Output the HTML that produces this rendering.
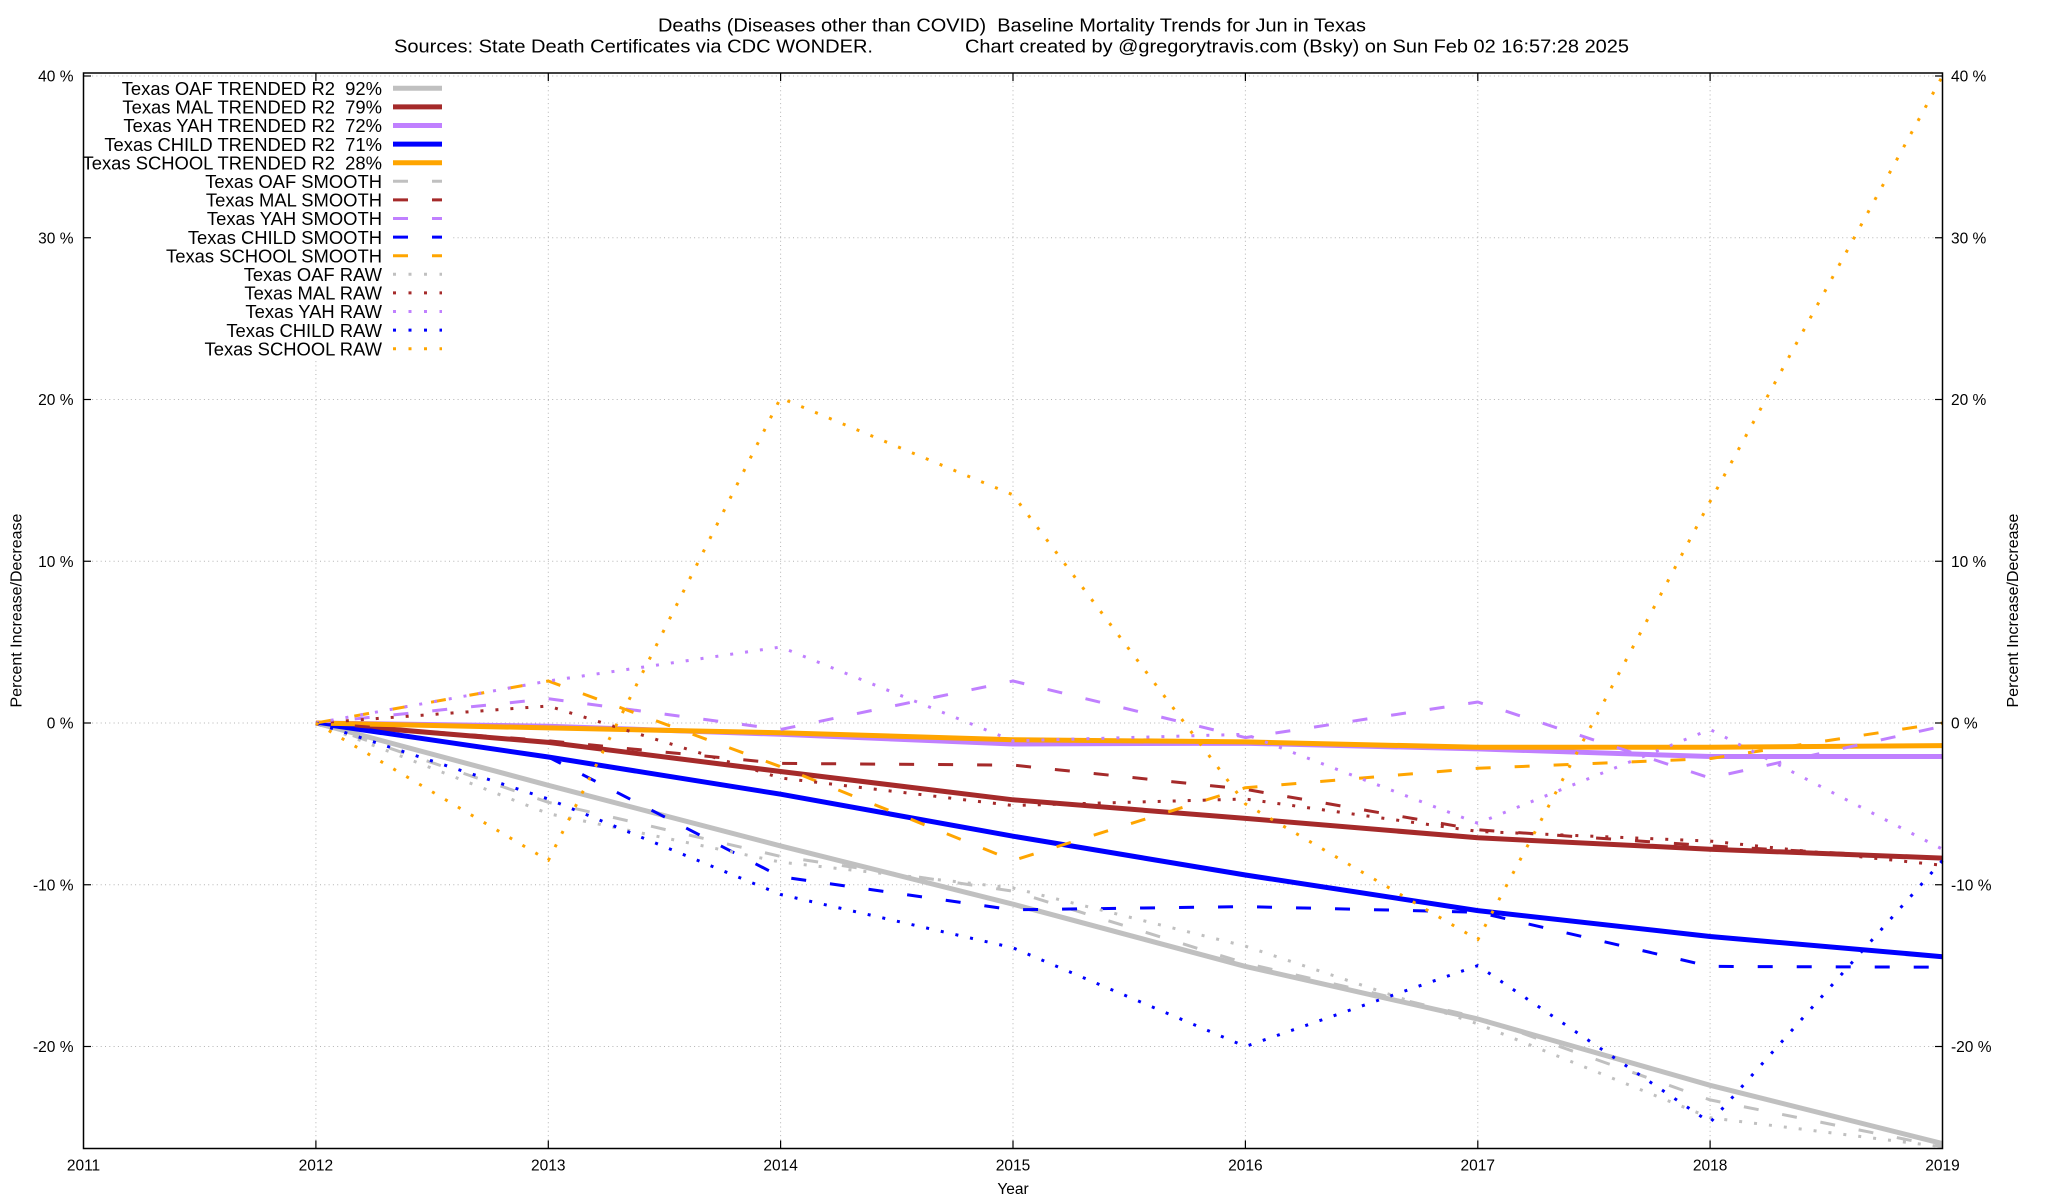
<!DOCTYPE html>
<html><head><meta charset="utf-8"><style>
html,body{margin:0;padding:0;background:#fff;}
svg{display:block;}
text{font-family:"Liberation Sans",Arial,Helvetica,sans-serif;fill:#000;}
</style></head><body>
<svg xmlns="http://www.w3.org/2000/svg" width="2048" height="1200" viewBox="0 0 2048 1200">
<rect x="0" y="0" width="2048" height="1200" fill="#fff"/>

<!-- titles -->
<text x="658" y="31.5" font-size="18.4" textLength="708" lengthAdjust="spacingAndGlyphs">Deaths (Diseases other than COVID)&#160; Baseline Mortality Trends for Jun in Texas</text>
<text x="394" y="52.3" font-size="18.4" textLength="479" lengthAdjust="spacingAndGlyphs">Sources: State Death Certificates via CDC WONDER.</text>
<text x="965" y="52.3" font-size="18.4" textLength="664" lengthAdjust="spacingAndGlyphs">Chart created by @gregorytravis.com (Bsky) on Sun Feb 02 16:57:28 2025</text>

<!-- grid -->
<g stroke="#b4b4b4" stroke-width="1" stroke-dasharray="1 3.3" fill="none">
<line x1="315.9" y1="73" x2="315.9" y2="1148.5"/>
<line x1="548.3" y1="73" x2="548.3" y2="1148.5"/>
<line x1="780.6" y1="73" x2="780.6" y2="1148.5"/>
<line x1="1013" y1="73" x2="1013" y2="1148.5"/>
<line x1="1245.4" y1="73" x2="1245.4" y2="1148.5"/>
<line x1="1477.8" y1="73" x2="1477.8" y2="1148.5"/>
<line x1="1710.1" y1="73" x2="1710.1" y2="1148.5"/>
<line x1="83.5" y1="76" x2="1942.5" y2="76"/>
<line x1="83.5" y1="237.75" x2="1942.5" y2="237.75"/>
<line x1="83.5" y1="399.5" x2="1942.5" y2="399.5"/>
<line x1="83.5" y1="561.25" x2="1942.5" y2="561.25"/>
<line x1="83.5" y1="723" x2="1942.5" y2="723"/>
<line x1="83.5" y1="884.75" x2="1942.5" y2="884.75"/>
<line x1="83.5" y1="1046.5" x2="1942.5" y2="1046.5"/>
</g>

<!-- opaque key background -->
<rect x="85" y="80" width="366" height="278" fill="#fff"/>

<!-- series -->
<g fill="none" stroke-linejoin="round">
<!-- trended -->
<polyline stroke="#c0c0c0" stroke-width="5" points="315.9,723 548.3,785.3 780.6,845.9 1013,904.2 1245.4,966.4 1477.8,1019 1710.1,1085.3 1942.5,1143.6"/>
<polyline stroke="#a52a2a" stroke-width="5" points="315.9,723 548.3,742.4 780.6,771.5 1013,799.8 1245.4,818.4 1477.8,837.8 1710.1,849.2 1942.5,858.1"/>
<polyline stroke="#c080ff" stroke-width="5" points="315.9,723 548.3,726.2 780.6,734.3 1013,744 1245.4,743.2 1477.8,748.9 1710.1,756.5 1942.5,756.5"/>
<polyline stroke="#0000ff" stroke-width="5" points="315.9,723 548.3,757 780.6,794.2 1013,836.2 1245.4,875 1477.8,910.6 1710.1,936.5 1942.5,956.7"/>
<polyline stroke="#ffa500" stroke-width="5" points="315.9,723 548.3,727.9 780.6,732.7 1013,739.7 1245.4,741.9 1477.8,747.3 1710.1,747.3 1942.5,745.6"/>
<!-- smooth -->
<g stroke-width="3" stroke-dasharray="15 24">
<polyline stroke="#c0c0c0" points="315.9,723 548.3,802.3 780.6,856.4 1013,891.2 1245.4,963.2 1477.8,1017.4 1710.1,1099.9 1942.5,1146.8"/>
<polyline stroke="#a52a2a" points="315.9,723 548.3,740.8 780.6,763.4 1013,765.1 1245.4,789.3 1477.8,829.8 1710.1,845.9 1942.5,858.9"/>
<polyline stroke="#c080ff" points="315.9,723 548.3,698.7 780.6,729.5 1013,681 1245.4,737.6 1477.8,702 1710.1,778 1942.5,726.2"/>
<polyline stroke="#0000ff" points="315.9,723 548.3,757 780.6,876.7 1013,909.8 1245.4,906.6 1477.8,912.2 1710.1,966.4 1942.5,967.2"/>
<polyline stroke="#ffa500" points="315.9,723 548.3,681 780.6,766.7 1013,860.5 1245.4,787.7 1477.8,768.3 1710.1,758.6 1942.5,723"/>
</g>
<!-- raw -->
<g stroke-width="3" stroke-dasharray="3 12">
<polyline stroke="#c0c0c0" points="315.9,723 548.3,813.6 780.6,862.1 1013,888 1245.4,946.2 1477.8,1023.9 1710.1,1117.7 1942.5,1146.8"/>
<polyline stroke="#a52a2a" points="315.9,723 548.3,706 780.6,778 1013,805.5 1245.4,799 1477.8,831.4 1710.1,841.1 1942.5,865.3"/>
<polyline stroke="#c080ff" points="315.9,723 548.3,681 780.6,647 1013,740.8 1245.4,734.3 1477.8,823.3 1710.1,729.5 1942.5,849.2"/>
<polyline stroke="#0000ff" points="315.9,723 548.3,799 780.6,894.5 1013,947.8 1245.4,1046.5 1477.8,965.6 1710.1,1122.5 1942.5,860.5"/>
<polyline stroke="#ffa500" points="315.9,723 548.3,860.5 780.6,397.9 1013,494.9 1245.4,803.9 1477.8,939.7 1710.1,501.4 1942.5,76"/>
</g>
</g>

<!-- frame -->
<rect x="83.5" y="73" width="1859" height="1075.5" fill="none" stroke="#000" stroke-width="1.5"/>

<!-- ticks -->
<g stroke="#000" stroke-width="1.2">
<line x1="83.5" y1="76" x2="91" y2="76"/><line x1="1942.5" y1="76" x2="1935" y2="76"/>
<line x1="83.5" y1="237.75" x2="91" y2="237.75"/><line x1="1942.5" y1="237.75" x2="1935" y2="237.75"/>
<line x1="83.5" y1="399.5" x2="91" y2="399.5"/><line x1="1942.5" y1="399.5" x2="1935" y2="399.5"/>
<line x1="83.5" y1="561.25" x2="91" y2="561.25"/><line x1="1942.5" y1="561.25" x2="1935" y2="561.25"/>
<line x1="83.5" y1="723" x2="91" y2="723"/><line x1="1942.5" y1="723" x2="1935" y2="723"/>
<line x1="83.5" y1="884.75" x2="91" y2="884.75"/><line x1="1942.5" y1="884.75" x2="1935" y2="884.75"/>
<line x1="83.5" y1="1046.5" x2="91" y2="1046.5"/><line x1="1942.5" y1="1046.5" x2="1935" y2="1046.5"/>
<line x1="315.9" y1="1148.5" x2="315.9" y2="1140.5"/><line x1="315.9" y1="73" x2="315.9" y2="81"/>
<line x1="548.3" y1="1148.5" x2="548.3" y2="1140.5"/><line x1="548.3" y1="73" x2="548.3" y2="81"/>
<line x1="780.6" y1="1148.5" x2="780.6" y2="1140.5"/><line x1="780.6" y1="73" x2="780.6" y2="81"/>
<line x1="1013" y1="1148.5" x2="1013" y2="1140.5"/><line x1="1013" y1="73" x2="1013" y2="81"/>
<line x1="1245.4" y1="1148.5" x2="1245.4" y2="1140.5"/><line x1="1245.4" y1="73" x2="1245.4" y2="81"/>
<line x1="1477.8" y1="1148.5" x2="1477.8" y2="1140.5"/><line x1="1477.8" y1="73" x2="1477.8" y2="81"/>
<line x1="1710.1" y1="1148.5" x2="1710.1" y2="1140.5"/><line x1="1710.1" y1="73" x2="1710.1" y2="81"/>
</g>

<!-- y tick labels -->
<g font-size="15.5" text-anchor="end">
<text x="73.5" y="81.5">40 %</text>
<text x="73.5" y="243.25">30 %</text>
<text x="73.5" y="405">20 %</text>
<text x="73.5" y="566.75">10 %</text>
<text x="73.5" y="728.5">0 %</text>
<text x="73.5" y="890.25">-10 %</text>
<text x="73.5" y="1052">-20 %</text>
</g>
<g font-size="15.5" text-anchor="start">
<text x="1951" y="81.5">40 %</text>
<text x="1951" y="243.25">30 %</text>
<text x="1951" y="405">20 %</text>
<text x="1951" y="566.75">10 %</text>
<text x="1951" y="728.5">0 %</text>
<text x="1951" y="890.25">-10 %</text>
<text x="1951" y="1052">-20 %</text>
</g>

<!-- x tick labels -->
<g font-size="15.5" text-anchor="middle">
<text x="83.5" y="1170.5">2011</text>
<text x="315.9" y="1170.5">2012</text>
<text x="548.3" y="1170.5">2013</text>
<text x="780.6" y="1170.5">2014</text>
<text x="1013" y="1170.5">2015</text>
<text x="1245.4" y="1170.5">2016</text>
<text x="1477.8" y="1170.5">2017</text>
<text x="1710.1" y="1170.5">2018</text>
<text x="1942.5" y="1170.5">2019</text>
<text x="1013" y="1194">Year</text>
</g>

<!-- axis labels -->
<text font-size="16" text-anchor="middle" transform="translate(21.5,610.5) rotate(-90)">Percent Increase/Decrease</text>
<text font-size="16" text-anchor="middle" transform="translate(2018,610.5) rotate(-90)">Percent Increase/Decrease</text>

<!-- legend -->
<g font-size="18.4" text-anchor="end">
<text x="382" y="95">Texas OAF TRENDED R2&#160; 92%</text>
<text x="382" y="113.6">Texas MAL TRENDED R2&#160; 79%</text>
<text x="382" y="132.2">Texas YAH TRENDED R2&#160; 72%</text>
<text x="382" y="150.8">Texas CHILD TRENDED R2&#160; 71%</text>
<text x="382" y="169.4">Texas SCHOOL TRENDED R2&#160; 28%</text>
<text x="382" y="188">Texas OAF SMOOTH</text>
<text x="382" y="206.6">Texas MAL SMOOTH</text>
<text x="382" y="225.2">Texas YAH SMOOTH</text>
<text x="382" y="243.8">Texas CHILD SMOOTH</text>
<text x="382" y="262.4">Texas SCHOOL SMOOTH</text>
<text x="382" y="281">Texas OAF RAW</text>
<text x="382" y="299.6">Texas MAL RAW</text>
<text x="382" y="318.2">Texas YAH RAW</text>
<text x="382" y="336.8">Texas CHILD RAW</text>
<text x="382" y="355.4">Texas SCHOOL RAW</text>
</g>
<g fill="none">
<line x1="393" y1="88.3" x2="442" y2="88.3" stroke="#c0c0c0" stroke-width="5"/>
<line x1="393" y1="106.9" x2="442" y2="106.9" stroke="#a52a2a" stroke-width="5"/>
<line x1="393" y1="125.5" x2="442" y2="125.5" stroke="#c080ff" stroke-width="5"/>
<line x1="393" y1="144.1" x2="442" y2="144.1" stroke="#0000ff" stroke-width="5"/>
<line x1="393" y1="162.7" x2="442" y2="162.7" stroke="#ffa500" stroke-width="5"/>
<g stroke-width="3" stroke-dasharray="15 24">
<line x1="393" y1="181.3" x2="442" y2="181.3" stroke="#c0c0c0"/>
<line x1="393" y1="199.9" x2="442" y2="199.9" stroke="#a52a2a"/>
<line x1="393" y1="218.5" x2="442" y2="218.5" stroke="#c080ff"/>
<line x1="393" y1="237.1" x2="442" y2="237.1" stroke="#0000ff"/>
<line x1="393" y1="255.7" x2="442" y2="255.7" stroke="#ffa500"/>
</g>
<g stroke-width="3" stroke-dasharray="3 12.5">
<line x1="393" y1="274.3" x2="442" y2="274.3" stroke="#c0c0c0"/>
<line x1="393" y1="292.9" x2="442" y2="292.9" stroke="#a52a2a"/>
<line x1="393" y1="311.5" x2="442" y2="311.5" stroke="#c080ff"/>
<line x1="393" y1="330.1" x2="442" y2="330.1" stroke="#0000ff"/>
<line x1="393" y1="348.7" x2="442" y2="348.7" stroke="#ffa500"/>
</g>
</g>
</svg>
</body></html>
